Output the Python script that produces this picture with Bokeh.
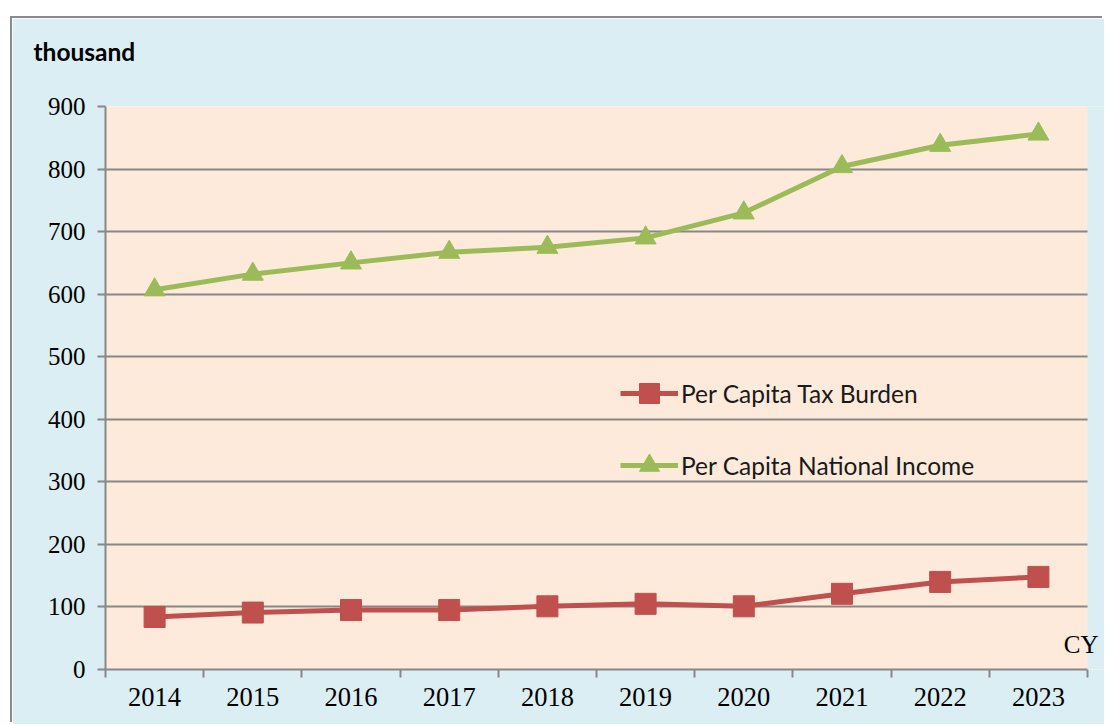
from bokeh.plotting import figure
from bokeh.models import Range1d, FixedTicker, Label, Legend, LegendItem, BoxAnnotation
from bokeh.embed import file_html
from bokeh.resources import INLINE

years = ["2014", "2015", "2016", "2017", "2018", "2019", "2020", "2021", "2022", "2023"]
tax_burden = [84, 91, 95, 95, 101, 105, 101, 121, 140, 148]
national_income = [607, 632, 650, 667, 675, 690, 730, 804, 838, 856]
y_ticks = [0, 100, 200, 300, 400, 500, 600, 700, 800, 900]
unit_text = "thousand"
x_note = "CY"

RED = "#C0504D"
GREEN = "#9BBB59"
GRAY = "#878787"
BLUE = "#DAEEF3"
PEACH = "#FDEADA"

n = len(years)
xs = [i + 0.5 for i in range(n)]

# the trailing empty line lifts the unit caption away from the plotting area
p = figure(width=1092, height=706, output_backend="svg", toolbar_location=None,
           title=unit_text + "\n",
           x_range=Range1d(0, n + 0.173), y_range=Range1d(0, y_ticks[-1]),
           min_border_left=93, min_border_right=0, min_border_top=88, min_border_bottom=55,
           background_fill_color=PEACH, border_fill_color=BLUE,
           outline_line_color=None,
           styles={"margin-top": "18px", "margin-left": "12px",
                   "box-shadow": "-2px -2px 0 0 #8a8a8a"})

p.title.align = "left"
p.title.offset = -72
p.title.standoff = 23
p.title.vertical_align = "bottom"
p.title.text_font = "Lato"
p.title.text_font_style = "bold"
p.title.text_font_size = "24.5px"
p.title.text_color = "#000000"

# x axis: labels at category centres, tick marks at category boundaries
p.xaxis.ticker = FixedTicker(ticks=xs, minor_ticks=list(range(n + 1)))
p.xaxis.major_label_overrides = {x: y for x, y in zip(xs, years)}
p.xaxis.bounds = (0, n)
p.xaxis.major_tick_in = 0
p.xaxis.major_tick_out = 0
p.xaxis.minor_tick_in = 0
p.xaxis.minor_tick_out = 8
p.xaxis.minor_tick_line_color = GRAY
p.xaxis.minor_tick_line_width = 2
p.xaxis.axis_line_color = GRAY
p.xaxis.axis_line_width = 2
p.xaxis.major_label_standoff = 10
p.xaxis.major_label_text_font_size = "26.5px"
p.xgrid.visible = False

p.yaxis.ticker = FixedTicker(ticks=y_ticks)
p.yaxis.major_tick_in = 0
p.yaxis.major_tick_out = 8
p.yaxis.major_tick_line_color = GRAY
p.yaxis.major_tick_line_width = 2
p.yaxis.minor_tick_line_color = None
p.yaxis.axis_line_color = GRAY
p.yaxis.axis_line_width = 2
p.yaxis.major_label_standoff = 12
p.yaxis.major_label_text_font_size = "25px"
p.ygrid.grid_line_color = GRAY
p.ygrid.grid_line_width = 2

for ax in (p.xaxis, p.yaxis):
    ax.major_label_text_font = "Liberation Serif"
    ax.major_label_text_color = "#000000"

# blue strip right of the plotting area
p.add_layout(BoxAnnotation(left=n, fill_color=BLUE, fill_alpha=1, line_color=None))

r1 = p.line(xs, tax_burden, line_color=RED, line_width=5)
s1 = p.scatter(xs, tax_burden, marker="square", size=21, fill_color=RED, line_color=RED)
r2 = p.line(xs, national_income, line_color=GREEN, line_width=5)
s2 = p.scatter(xs, national_income, marker="triangle", size=21, fill_color=GREEN, line_color=GREEN)

legend = Legend(items=[LegendItem(label="Per Capita Tax Burden", renderers=[r1, s1]),
                       LegendItem(label="Per Capita National Income", renderers=[r2, s2])],
                location=(515, 179), glyph_width=58, glyph_height=50, spacing=22,
                label_standoff=3, padding=0, margin=0,
                border_line_color=None, background_fill_alpha=0,
                label_text_font="Lato", label_text_font_size="24.5px",
                label_text_color="#1a1a1a")
p.add_layout(legend)

p.add_layout(Label(x=n, y=40, x_offset=11, text=x_note,
                   text_font="Liberation Serif", text_font_size="25px",
                   text_align="right", text_baseline="middle", text_color="#000000"))

open("out.html", "w").write(file_html(p, INLINE))
